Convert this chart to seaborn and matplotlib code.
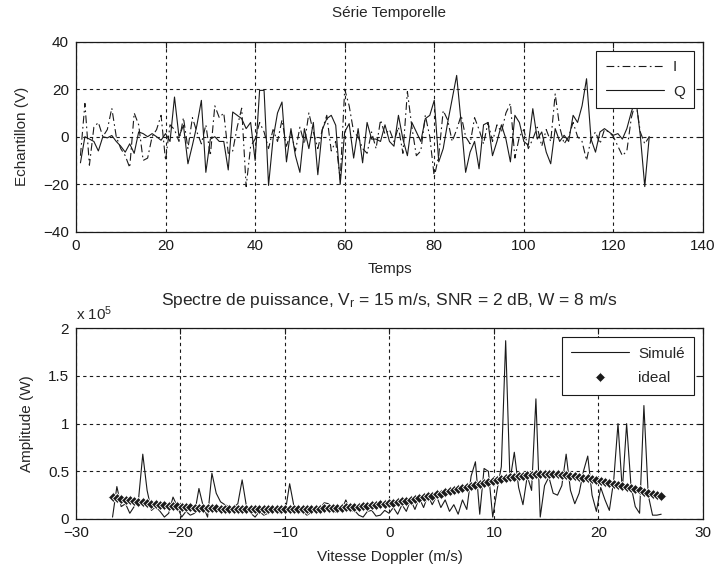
import numpy as np
import pandas as pd
import matplotlib
matplotlib.use("Agg")
import matplotlib.pyplot as plt
import seaborn as sns

# ---------------- data ----------------
temps = list(range(1, 129))

serie_I = [-8, 14, -12, 4, 6, 0, 3, 12, 0, -5, -8, -13, 10, 5, -10, -9, 0, 3, 9, -10,
           5, 3, -2, 8, -5, 8, 2, -3, 5, -8, 13, 8, 10, -7, -6, 4, 12, -21, -4, -1,
           6, 2, -5, 3, -2, 7, -4, 2, -6, 4, -3, 10, 2, -5, 3, 9, -6, -2, -18, 20,
           13, 2, 0, -5, -7, 2, -5, 7, 1, 3, -2, 4, -7, 19, 4, -8, -6, 9, 0, -17,
           -8, 11, 7, -2, 3, 9, 0, -3, 8, 3, -3, 6, -2, 5, 2, 10, 14, -9, 0, 3,
           -5, -1, 4, -4, 3, -2, 18, 4, -3, 0, 6, 0, -2, -10, -1, 2, -3, 3, 2, 0,
           -4, -8, -6, 8, 15, 2, -3, 0]

serie_Q = [-11, 0, -1, -2, -6, 0, -0.5, 0.5, -2, -4, -6.5, -3, -7, 2, 1.3, 0, 1.3, 0, -1.5, 1.3,
           -2, 16.7, 0, 4.8, -11.4, -3.6, 4.8, 15.3, -15, -1, 0, -2, -2, -14, 10.4, 9, 7.6, 3.4, 6, -10,
           19.5, 19.5, -20.5, -1, 10, 14.6, -10.6, 3.4, -8, -15, 3.4, -5, 6, -16, 3, 7.6, 9, 4.8, -20, 2,
           5.5, -9, 3.4, -11, 6, -1, -1, -2, 5, -2, -4, 9, -1, -8, 6, 2, -2, 7.6, 9, 15.3,
           -10.6, -5, 6, 16, 25.8, 6, -15, -6.5, -2, -13.5, 5, 6, -8, -2, 5, -1, -10.6, 9, 6, -2,
           -3.6, 11.8, -1, 2, -6.5, -11.4, 3.4, -2, 0.6, -2, 9, 6, 13, 24.4, -1, -6.5, 2, 3.4, 2, 0.6,
           1.3, -1, 3.4, 10.4, 16, 0.6, -21, 0]

# Doppler velocity axis (m/s), 128 spectral bins
vitesse = np.linspace(-26.5, 26.0, 128)

# amplitudes in units of 1e5 W
simule = [0.02, 0.34, 0.13, 0.16, 0.06, 0.13, 0.2, 0.68, 0.3, 0.09, 0.13, 0.08, 0.02, 0.06, 0.23, 0.13,
          0.02, 0.08, 0.04, 0.06, 0.32, 0.13, 0.02, 0.48, 0.27, 0.18, 0.15, 0.13, 0.12, 0.16, 0.41, 0.13,
          0.06, 0.02, 0.08, 0.04, 0.06, 0.09, 0.08, 0.06, 0.08, 0.37, 0.13, 0.06, 0.08, 0.04, 0.07, 0.08,
          0.11, 0.17, 0.16, 0.08, 0.07, 0.09, 0.2, 0.08, 0.09, 0.04, 0.02, 0.08, 0.09, 0.03, 0.04, 0.09,
          0.06, 0.12, 0.05, 0.15, 0.08, 0.2, 0.1, 0.22, 0.12, 0.25, 0.15, 0.24, 0.12, 0.2, 0.08, 0.15,
          0.05, 0.2, 0.1, 0.45, 0.6, 0.05, 0.53, 0.5, 0.02, 0.3, 0.55, 1.87, 0.4, 0.7, 0.33, 0.15,
          0.45, 0.3, 1.26, 0.02, 0.35, 0.44, 0.27, 0.25, 0.35, 0.68, 0.3, 0.16, 0.27, 0.5, 0.66, 0.25,
          0.08, 0.33, 0.2, 0.09, 0.4, 1.0, 0.3, 1.0, 0.35, 0.13, 0.06, 1.19, 0.25, 0.04, 0.04, 0.05]

ideal = [0.232, 0.222, 0.213, 0.204, 0.196, 0.188, 0.180, 0.173, 0.167, 0.161, 0.155, 0.150, 0.145, 0.140, 0.136, 0.132,
         0.128, 0.125, 0.123, 0.120, 0.117, 0.116, 0.113, 0.112, 0.110, 0.109, 0.108, 0.107, 0.106, 0.105, 0.104, 0.104,
         0.104, 0.104, 0.103, 0.103, 0.103, 0.103, 0.103, 0.103, 0.103, 0.104, 0.104, 0.105, 0.105, 0.106, 0.107, 0.108,
         0.109, 0.111, 0.112, 0.114, 0.116, 0.119, 0.121, 0.124, 0.127, 0.130, 0.134, 0.138, 0.142, 0.147, 0.152, 0.157,
         0.163, 0.170, 0.176, 0.184, 0.191, 0.199, 0.208, 0.217, 0.226, 0.236, 0.246, 0.257, 0.267, 0.278, 0.289, 0.301,
         0.312, 0.324, 0.335, 0.347, 0.358, 0.370, 0.381, 0.391, 0.401, 0.411, 0.420, 0.429, 0.437, 0.444, 0.450, 0.456,
         0.460, 0.464, 0.467, 0.469, 0.470, 0.470, 0.469, 0.467, 0.464, 0.460, 0.455, 0.449, 0.443, 0.435, 0.427, 0.419,
         0.409, 0.399, 0.389, 0.379, 0.367, 0.356, 0.345, 0.333, 0.322, 0.310, 0.299, 0.287, 0.276, 0.265, 0.254, 0.244]

top_xticks = [0, 20, 40, 60, 80, 100, 120, 140]
top_yticks = [-40, -20, 0, 20, 40]
bot_xticks = [-30, -20, -10, 0, 10, 20, 30]
bot_yticks = [0, 0.5, 1, 1.5, 2]
bot_yticklabels = ["0", "0.5", "1", "1.5", "2"]

# ---------------- style ----------------
sns.set_theme(style="white")
plt.rcParams["font.family"] = ["Liberation Sans", "DejaVu Sans"]
plt.rcParams["mathtext.fontset"] = "custom"
plt.rcParams["mathtext.rm"] = "Liberation Sans"
plt.rcParams["mathtext.it"] = "Liberation Sans:italic"
FS = 11

fig = plt.figure(figsize=(7.18, 5.71), dpi=100)
fig.patch.set_facecolor("white")
ax1 = fig.add_axes([0.1058, 0.5942, 0.8733, 0.3328])
ax2 = fig.add_axes([0.1058, 0.0911, 0.8733, 0.3339])

df_t = pd.DataFrame({"t": temps, "I": serie_I, "Q": serie_Q})
sns.lineplot(data=df_t, x="t", y="I", ax=ax1, color="k", linestyle=(0, (7, 3, 1.5, 3)),
             linewidth=0.8, label="I", estimator=None, sort=False)
sns.lineplot(data=df_t, x="t", y="Q", ax=ax1, color="k", linestyle="-",
             linewidth=0.8, label="Q", estimator=None, sort=False)

df_s = pd.DataFrame({"v": vitesse, "sim": simule, "ideal": ideal})
sns.lineplot(data=df_s, x="v", y="sim", ax=ax2, color="k", linewidth=0.8,
             label="Simulé", estimator=None, sort=False)
sns.lineplot(data=df_s, x="v", y="ideal", ax=ax2, color="k", linestyle="none",
             marker="D", markersize=5.2, markeredgewidth=0.6, label="ideal",
             estimator=None, sort=False)

def style_axes(ax, xt, yt, ytl=None):
    ax.set_xticks(xt)
    ax.set_yticks(yt)
    if ytl is not None:
        ax.set_yticklabels(ytl)
    ax.set_xlim(xt[0], xt[-1])
    ax.set_ylim(yt[0], yt[-1])
    ax.grid(True, color="k", linestyle=(0, (3, 3)), linewidth=0.8)
    ax.tick_params(direction="in", length=4, width=0.8, colors="k",
                   labelsize=FS, top=True, right=True)
    ax.tick_params(axis="x", pad=5)
    ax.tick_params(axis="y", pad=5)
    for s in ax.spines.values():
        s.set_color("k")
        s.set_linewidth(0.9)
    ax.set_facecolor("white")

style_axes(ax1, top_xticks, top_yticks)
style_axes(ax2, bot_xticks, bot_yticks, bot_yticklabels)

ax1.set_title("Série Temporelle", fontsize=FS, pad=18)
ax1.set_xlabel("Temps", fontsize=FS, labelpad=7)
ax1.set_ylabel("Echantillon (V)", fontsize=FS, labelpad=10)

ax2.set_title(r"Spectre de puissance, V$_\mathregular{r}$ = 15 m/s, SNR = 2 dB, W = 8 m/s",
              fontsize=FS + 1.5, pad=17)
ax2.set_xlabel("Vitesse Doppler (m/s)", fontsize=FS, labelpad=7)
ax2.set_ylabel("Amplitude (W)", fontsize=FS, labelpad=10)
ax2.text(0.0, 1.042, r"x 10$^\mathregular{5}$", transform=ax2.transAxes,
         fontsize=FS, ha="left", va="baseline")

for ax in (ax1, ax2):
    leg = ax.legend(loc="upper right", fontsize=FS, handlelength=3.8,
                    frameon=True, fancybox=False, borderpad=0.6,
                    labelspacing=0.7, handletextpad=0.6, borderaxespad=0.6)
    leg.get_frame().set_edgecolor("k")
    leg.get_frame().set_linewidth(0.8)
    leg.get_frame().set_alpha(1)

fig.savefig("out.png", dpi=100, facecolor="white")
